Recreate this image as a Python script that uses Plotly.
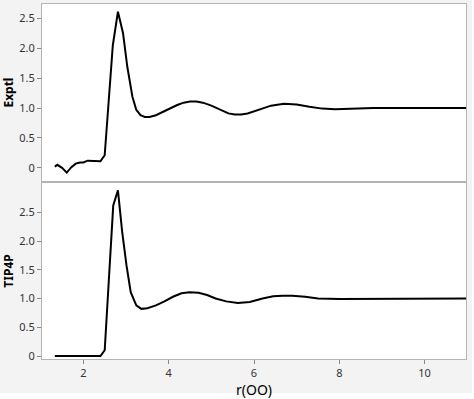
import plotly.graph_objects as go

# Experimental g(r)
r_exptl = [1.33, 1.39, 1.50, 1.61, 1.72, 1.82, 1.92, 2.00, 2.10, 2.20, 2.30, 2.40, 2.50,
           2.69, 2.81, 2.93, 3.03, 3.15, 3.24, 3.34, 3.44, 3.55, 3.70, 3.85, 4.00, 4.20,
           4.35, 4.50, 4.65, 4.80, 5.00, 5.20, 5.40, 5.55, 5.70, 5.85, 6.10, 6.40, 6.70,
           7.00, 7.30, 7.60, 7.90, 8.30, 8.80, 9.50, 10.20, 10.97]
g_exptl = [0.02, 0.05, 0.00, -0.08, 0.01, 0.07, 0.09, 0.09, 0.12, 0.12, 0.11, 0.11, 0.21,
           2.05, 2.61, 2.25, 1.69, 1.19, 0.97, 0.88, 0.85, 0.85, 0.88, 0.93, 0.99, 1.05,
           1.09, 1.11, 1.11, 1.09, 1.04, 0.97, 0.91, 0.89, 0.89, 0.91, 0.97, 1.04, 1.07,
           1.06, 1.02, 0.99, 0.98, 0.99, 1.00, 1.00, 1.00, 1.00]

# TIP4P model g(r)
r_tip4p = [1.33, 2.00, 2.40, 2.50, 2.70, 2.81, 2.91, 3.01, 3.11, 3.24, 3.36, 3.50, 3.70,
           3.90, 4.10, 4.30, 4.49, 4.70, 4.90, 5.10, 5.35, 5.62, 5.90, 6.20, 6.45, 6.67,
           6.90, 7.20, 7.50, 8.00, 8.50, 9.00, 10.00, 10.97]
g_tip4p = [0.00, 0.00, 0.00, 0.10, 2.62, 2.88, 2.16, 1.58, 1.11, 0.88, 0.82, 0.83, 0.88,
           0.95, 1.03, 1.09, 1.11, 1.10, 1.06, 1.00, 0.95, 0.92, 0.94, 1.00, 1.04, 1.05,
           1.05, 1.03, 1.00, 0.99, 0.99, 1.00, 1.00, 1.00]

y_tickvals = [0, 0.5, 1.0, 1.5, 2.0, 2.5]
y_ticktext = ["0", "0.5", "1.0", "1.5", "2.0", "2.5"]
x_tickvals = [2, 4, 6, 8, 10]

line_style = dict(color="black", width=2)

fig = go.Figure()
fig.add_trace(go.Scatter(x=r_exptl, y=g_exptl, mode="lines", line=line_style,
                         xaxis="x", yaxis="y", showlegend=False))
fig.add_trace(go.Scatter(x=r_tip4p, y=g_tip4p, mode="lines", line=line_style,
                         xaxis="x2", yaxis="y2", showlegend=False))

axis_line = "#b4b4b4"
tick_font = dict(family="Noto Sans", size=11, color="#333333")

fig.update_layout(
    width=474, height=399,
    margin=dict(l=42, r=8, t=4, b=40),
    paper_bgcolor="#f3f3f3",
    plot_bgcolor="white",
    font=dict(family="Noto Sans"),
    xaxis=dict(domain=[0, 1], anchor="y", range=[1.03, 10.97], matches="x2",
               showticklabels=False, ticks="", showgrid=False, zeroline=False,
               showline=True, mirror=True, linecolor=axis_line, linewidth=1),
    yaxis=dict(domain=[0.501, 1], anchor="x", range=[-0.223, 2.74],
               tickvals=y_tickvals, ticktext=y_ticktext, ticks="outside", ticklen=4,
               tickcolor="#888888", tickfont=tick_font, showgrid=False, zeroline=False,
               showline=True, mirror=True, linecolor=axis_line, linewidth=1,
               title=dict(text="<b>Exptl</b>", font=dict(family="Noto Sans", size=12, color="black"),
                          standoff=6)),
    xaxis2=dict(domain=[0, 1], anchor="y2", range=[1.03, 10.97],
                tickvals=x_tickvals, ticks="outside", ticklen=4, tickcolor="#888888",
                tickfont=tick_font, showgrid=False, zeroline=False,
                showline=True, mirror=True, linecolor=axis_line, linewidth=1,
                title=dict(text="r(OO)", font=dict(family="Noto Sans", size=14, color="black"),
                           standoff=2)),
    yaxis2=dict(domain=[0, 0.496], anchor="x2", range=[-0.052, 3.01],
                tickvals=y_tickvals, ticktext=y_ticktext, ticks="outside", ticklen=4,
                tickcolor="#888888", tickfont=tick_font, showgrid=False, zeroline=False,
                showline=True, mirror=True, linecolor=axis_line, linewidth=1,
                title=dict(text="<b>TIP4P</b>", font=dict(family="Noto Sans", size=12, color="black"),
                           standoff=6)),
    shapes=[
        # thin white frame strips at the right and bottom edges of the image
        dict(type="rect", xref="paper", yref="paper", x0=(472 - 42) / 424, x1=(480 - 42) / 424,
             y0=-0.2, y1=1.05, fillcolor="white", line=dict(width=0), layer="above"),
        dict(type="rect", xref="paper", yref="paper", x0=-0.2, x1=1.05,
             y0=-(405 - 359) / 355, y1=-(393 - 359) / 355, fillcolor="white",
             line=dict(width=0), layer="above"),
    ],
)

fig.write_html("out.html", config={"displayModeBar": False},
               post_script="document.body.style.margin='0';")
